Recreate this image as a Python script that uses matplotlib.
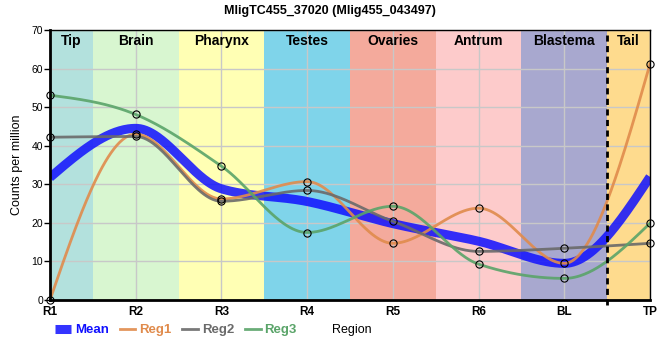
import numpy as np
import matplotlib
matplotlib.use("Agg")
import matplotlib.pyplot as plt

plt.rcParams['font.family'] = ['Liberation Sans', 'DejaVu Sans']

# data
positions = ["R1", "R2", "R3", "R4", "R5", "R6", "BL", "TP"]
reg1 = [0.0, 43.0, 26.2, 30.7, 14.7, 23.8, 9.5, 61.2]
reg2 = [42.2, 42.4, 25.6, 28.4, 20.4, 12.6, 13.4, 14.7]
reg3 = [53.1, 48.1, 34.7, 17.5, 24.3, 9.3, 5.6, 19.9]

regions = ["Tip", "Brain", "Pharynx", "Testes", "Ovaries", "Antrum", "Blastema", "Tail"]
region_bounds = [0, 0.5, 1.5, 2.5, 3.5, 4.5, 5.5, 6.5, 7]
region_colors = ["#b3e1dd", "#d8f6d0", "#ffffb4", "#7fd4ea", "#f4aa9c",
                 "#fdcbcb", "#a8a8cf", "#fedb8e"]

series_names = ["Reg1", "Reg2", "Reg3"]
series_colors = ["#e08b4c", "#6a6a6a", "#5aa469"]


def monotone(xs, ys, n=60):
    # monotone cubic (Steffen), like d3.curveMonotoneX
    xs = np.asarray(xs, float)
    ys = np.asarray(ys, float)
    h = np.diff(xs)
    s = np.diff(ys) / h
    t = np.zeros(len(xs))
    for i in range(1, len(xs) - 1):
        p = (s[i - 1] * h[i] + s[i] * h[i - 1]) / (h[i - 1] + h[i])
        t[i] = (np.sign(s[i - 1]) + np.sign(s[i])) * min(abs(s[i - 1]), abs(s[i]), 0.5 * abs(p))
    t[0] = (3 * s[0] - t[1]) / 2
    t[-1] = (3 * s[-1] - t[-2]) / 2
    ox, oy = [], []
    for i in range(len(xs) - 1):
        u = np.linspace(0, 1, n)
        h00 = 2 * u**3 - 3 * u**2 + 1
        h10 = u**3 - 2 * u**2 + u
        h01 = -2 * u**3 + 3 * u**2
        h11 = u**3 - u**2
        ox.append(xs[i] + u * h[i])
        oy.append(h00 * ys[i] + h10 * h[i] * t[i] + h01 * ys[i + 1] + h11 * h[i] * t[i + 1])
    return np.concatenate(ox), np.concatenate(oy)


x = np.arange(len(positions))
mean = np.mean([reg1, reg2, reg3], axis=0)

fig = plt.figure(figsize=(6.6, 3.6), dpi=100)
ax = fig.add_axes([50 / 660, 60 / 360, 600 / 660, 270 / 360])

for i, name in enumerate(regions):
    ax.axvspan(region_bounds[i], region_bounds[i + 1], color=region_colors[i], lw=0, zorder=0)
    ax.text((region_bounds[i] + region_bounds[i + 1]) / 2, 69, name, ha="center", va="top",
            fontsize=10, fontweight="bold", zorder=5)

ax.grid(True, color="#c8c8c8", lw=1, zorder=1)
ax.set_axisbelow(False)

mx, my = monotone(x, mean)
ax.plot(mx, my, color="#1010ff", alpha=0.85, lw=6.5, solid_capstyle="butt", zorder=3, label="Mean")
for vals, name, col in zip([reg1, reg2, reg3], series_names, series_colors):
    cx, cy = monotone(x, vals)
    ax.plot(cx, cy, color=col, lw=2, alpha=0.9, zorder=4, label=name)
for vals in [reg1, reg2, reg3]:
    ax.plot(x, vals, ls="none", marker="o", ms=5.2, mfc="none", mec="black", mew=0.8,
            zorder=6, clip_on=False)

ax.plot([6.5, 6.5], [-1.4, 70], color="black", lw=2, ls=(0, (2.2, 1.6)), zorder=7, clip_on=False)

ax.set_xlim(0, 7)
ax.set_ylim(0, 70)
ax.set_xticks(x)
ax.set_xticklabels(positions, fontsize=8.5, fontweight="bold")
ax.set_yticks(range(0, 71, 10))
ax.tick_params(axis="x", length=0, pad=4)
ax.tick_params(axis="y", length=4, width=1, labelsize=7.5, pad=1)
for side in ["left", "bottom"]:
    ax.spines[side].set_linewidth(2)
for side in ["top", "right"]:
    ax.spines[side].set_linewidth(1)
for sp in ax.spines.values():
    sp.set_zorder(8)

ax.set_ylabel("Counts per million", fontsize=9, labelpad=6)
fig.suptitle("MligTC455_37020 (Mlig455_043497)", y=0.985, fontsize=9, fontweight="bold")

leg = fig.legend(loc="center left", bbox_to_anchor=(50 / 660, 30 / 360), ncol=4, frameon=False,
                 fontsize=9.5, handlelength=1.2, handletextpad=0.3, columnspacing=0.8,
                 labelcolor="linecolor", borderaxespad=0)
for t in leg.get_texts():
    t.set_fontweight("bold")
fig.text(332 / 660, 30 / 360, "Region", fontsize=9, va="center", ha="left")

fig.savefig("out.png", dpi=100)
